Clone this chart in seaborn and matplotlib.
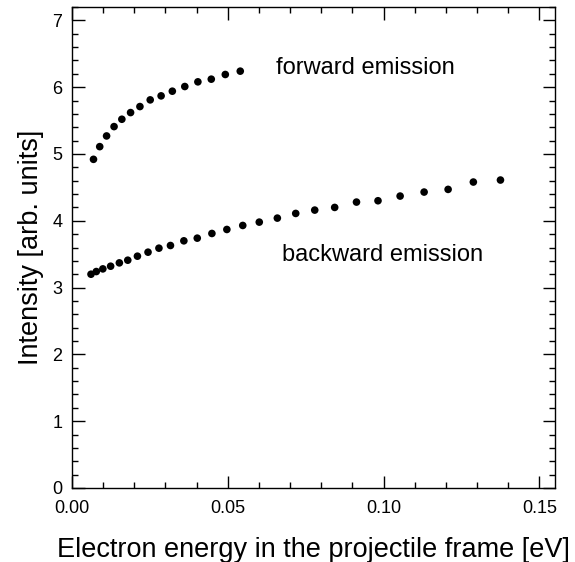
import matplotlib
matplotlib.use('Agg')
import matplotlib.pyplot as plt
from matplotlib.ticker import MultipleLocator
import pandas as pd
import seaborn as sns

# data
fwd_energy = [0.0069, 0.0089, 0.0111, 0.0135, 0.0160, 0.0188, 0.0218, 0.0251,
              0.0286, 0.0322, 0.0362, 0.0404, 0.0447, 0.0492, 0.0540]
fwd_intensity = [4.92, 5.11, 5.27, 5.41, 5.52, 5.62, 5.71, 5.81,
                 5.87, 5.94, 6.01, 6.08, 6.12, 6.19, 6.24]

bwd_energy = [0.0061, 0.0078, 0.0099, 0.0124, 0.0152, 0.0179, 0.0210, 0.0244,
              0.0279, 0.0316, 0.0359, 0.0402, 0.0449, 0.0497, 0.0548, 0.0601,
              0.0659, 0.0718, 0.0779, 0.0843, 0.0913, 0.0982, 0.1053, 0.1130,
              0.1207, 0.1288, 0.1375]
bwd_intensity = [3.20, 3.24, 3.28, 3.32, 3.37, 3.41, 3.47, 3.53,
                 3.59, 3.63, 3.70, 3.74, 3.81, 3.87, 3.93, 3.98,
                 4.04, 4.11, 4.16, 4.20, 4.28, 4.30, 4.37, 4.43,
                 4.47, 4.58, 4.61]

df = pd.concat([
    pd.DataFrame({'energy': fwd_energy, 'intensity': fwd_intensity, 'dir': 'forward'}),
    pd.DataFrame({'energy': bwd_energy, 'intensity': bwd_intensity, 'dir': 'backward'}),
])

# settings
sns.set_style("ticks")
plt.rcParams['font.family'] = ['Liberation Sans', 'DejaVu Sans']
plt.rcParams['text.color'] = 'black'
plt.rcParams['axes.labelcolor'] = 'black'
plt.rcParams['xtick.color'] = 'black'
plt.rcParams['ytick.color'] = 'black'

fig = plt.figure(figsize=(5.75, 5.62), dpi=100)
ax = fig.add_axes([0.1252, 0.1317, 0.8400, 0.8558])

sns.scatterplot(data=df, x='energy', y='intensity', hue='dir',
                palette={'forward': 'black', 'backward': 'black'},
                s=30, edgecolor='none', legend=False, ax=ax)

ax.set_xlim(0, 0.155)
ax.set_ylim(0, 7.2)
ax.xaxis.set_major_locator(MultipleLocator(0.05))
ax.xaxis.set_minor_locator(MultipleLocator(0.01))
ax.yaxis.set_major_locator(MultipleLocator(1))
ax.yaxis.set_minor_locator(MultipleLocator(0.2))
ax.set_xticks([0, 0.05, 0.10, 0.15])
ax.set_xticklabels(['0.00', '0.05', '0.10', '0.15'])
ax.tick_params(which='both', direction='in', top=True, right=True,
               labelsize=13, width=1)
ax.tick_params(which='major', length=9)
ax.tick_params(which='minor', length=4.5)
ax.tick_params(axis='x', which='major', pad=9)
ax.tick_params(axis='y', which='major', pad=7)
for s in ax.spines.values():
    s.set_linewidth(1)
    s.set_color('black')

ax.text(0.0655, 6.28, 'forward emission', fontsize=17, va='center')
ax.text(0.0675, 3.49, 'backward emission', fontsize=17, va='center')

ax.set_xlabel('Electron energy in the projectile frame [eV]', fontsize=19.5, labelpad=14)
ax.set_ylabel('Intensity [arb. units]', fontsize=19.5, labelpad=6)

fig.savefig('out.png', dpi=100)
plt.close()
